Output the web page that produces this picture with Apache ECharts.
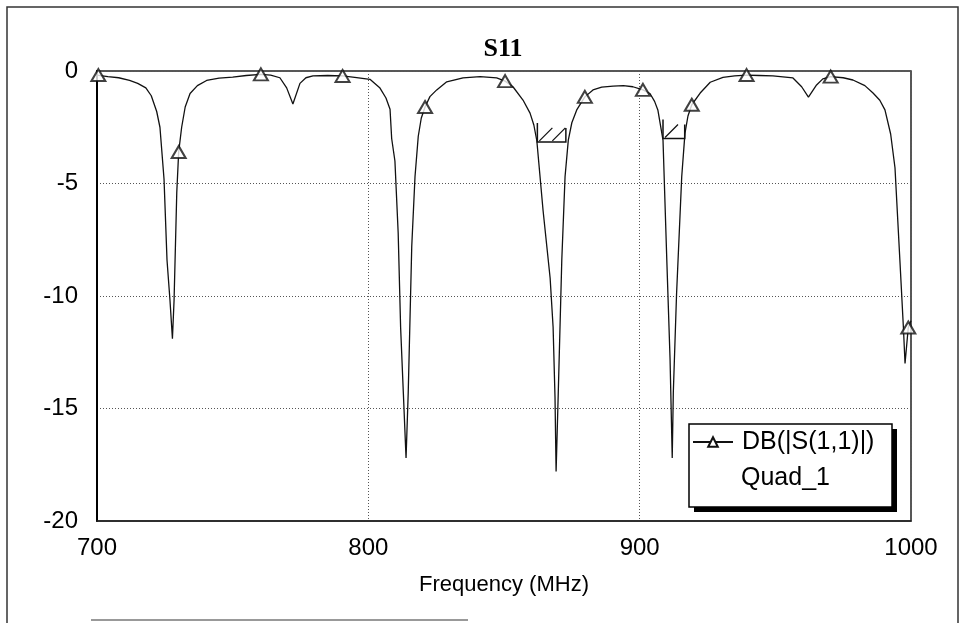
<!DOCTYPE html>
<html>
<head>
<meta charset="utf-8">
<script src="https://cdn.jsdelivr.net/npm/echarts@6/dist/echarts.min.js"></script>
<style>
  html, body { margin: 0; padding: 0; background: #fff; }
  #main { width: 966px; height: 623px; }
</style>
</head>
<body>
<div id="main"></div>
<script>
// 频率 (MHz) 与 S11 (dB)
var freq = [
  700, 704, 708, 712, 715, 718, 720, 722, 723.2, 724.7, 725.8, 726.9, 727.8, 728.4, 729.4, 730.1,
  731.2, 732.5, 734.3, 737, 740.4, 745, 750, 755, 760.4, 764, 767.4, 769.9, 772.2, 774.8, 777,
  779.6, 785, 790.5, 795, 800.6, 804.3, 806.5, 808, 808.6, 809.8, 811, 811.9, 812.9, 813.9,
  814.7, 816, 817.2, 818.4, 819.5, 820.9, 822.7, 825.2, 828.9, 834.9, 841.2, 847.3, 850.4,
  853.3, 857, 859.6, 861, 862.1, 864.4, 867, 868.1, 868.8, 869.2, 870, 871.3, 872.5, 873.7,
  875, 876.8, 879.8, 882.8, 886, 890.2, 894, 897.5, 901.2, 903.8, 905.5, 906.7, 908.6, 910,
  911.2, 912, 912.4, 913.6, 915.5, 916.7, 917.8, 919.2, 922.3, 926, 930.7, 935, 939.4, 944,
  949.1, 956.5, 959.7, 962.2, 965.2, 967.5, 970.4, 975, 978.6, 983, 986, 988.5, 990.4, 992.5,
  994.1, 995.9, 997.2, 997.8, 999, 1000
];
var s11 = [
  -0.18, -0.25, -0.3, -0.42, -0.55, -0.75, -1.1, -1.8, -2.5, -4.8, -8.4, -10.2, -11.9, -10.2, -5.4, -3.6,
  -2.5, -1.6, -1.0, -0.65, -0.42, -0.32, -0.27, -0.2, -0.15, -0.18, -0.3, -0.75, -1.47, -0.55, -0.3,
  -0.22, -0.2, -0.22, -0.28, -0.37, -0.76, -1.2, -1.7, -3.0, -4.0, -7.2, -11.4, -14.3, -17.2,
  -14.3, -7.8, -4.7, -2.9, -2.1, -1.6, -1.14, -0.84, -0.48, -0.31, -0.25, -0.31, -0.45,
  -0.7, -1.29, -1.87, -2.4, -3.1, -6.2, -9.2, -11.4, -14.5, -17.8, -14.3, -8.4, -4.7, -3.07,
  -2.3, -1.73, -1.15, -0.84, -0.72, -0.67, -0.65, -0.7, -0.84, -1.0, -1.35, -1.73, -3.07, -8.4,
  -12.8, -17.2, -14.3, -9.9, -4.7, -2.76, -2.0, -1.5, -0.98, -0.5, -0.28, -0.22, -0.18, -0.2,
  -0.22, -0.31, -0.7, -1.16, -0.62, -0.35, -0.25, -0.3, -0.4, -0.65, -0.98, -1.3, -1.73, -2.8,
  -4.3, -8.4, -11.4, -13.0, -11.4, -11.1
];

// 曲线上的三角标记
var markerFreq = [700.5, 730.1, 760.4, 790.5, 820.9, 850.4, 879.8, 901.2, 919.2, 939.4, 970.4, 999];
var markerDb = [-0.18, -3.6, -0.15, -0.22, -1.6, -0.45, -1.15, -0.84, -1.5, -0.18, -0.25, -11.4];

// 优化目标（斜线标记）
var goalStart = [862.3, 908.6];
var goalEnd = [872.8, 916.6];
var goalDb = [-3.15, -3.0];

var xTicks = [700, 800, 900, 1000];
var yTicks = [0, -5, -10, -15, -20];

var traceName = 'DB(|S(1,1)|)';
var docName = 'Quad_1';
var fontFamily = '"Liberation Sans", Arial, sans-serif';

var chart = echarts.init(document.getElementById('main'), null, { renderer: 'canvas' });

var option = {
  backgroundColor: '#fff',
  animation: false,
  title: {
    text: 'S11',
    left: 498,
    top: 31,
    textAlign: 'center',
    textStyle: {
      fontFamily: '"Liberation Serif", "Times New Roman", serif',
      fontWeight: 'bold',
      fontSize: 26,
      color: '#000'
    }
  },
  grid: {
    left: 97,
    right: 55,
    top: 71,
    bottom: 102,
    show: true,
    borderColor: '#222',
    borderWidth: 1.5
  },
  legend: {
    data: [{ name: traceName }],
    left: 692,
    top: 427,
    padding: 0,
    itemWidth: 40,
    itemHeight: 12,
    z: 20,
    textStyle: {
      fontFamily: fontFamily,
      fontSize: 25,
      lineHeight: 30,
      color: '#000',
      padding: [0, 0, 0, 4]
    }
  },
  xAxis: {
    type: 'value',
    min: 700,
    max: 1000,
    interval: 100,
    name: 'Frequency (MHz)',
    nameLocation: 'middle',
    nameGap: 53,
    nameTextStyle: { fontFamily: fontFamily, fontSize: 22, color: '#000' },
    axisLine: { show: true, onZero: false, lineStyle: { color: '#222', width: 1.5 } },
    axisTick: { show: false },
    axisLabel: {
      margin: 15,
      fontFamily: fontFamily,
      fontSize: 24,
      color: '#000',
      formatter: function (v) { return xTicks.indexOf(v) >= 0 ? String(v) : ''; }
    },
    splitLine: { show: true, lineStyle: { color: '#555', type: [1, 2], width: 1 } }
  },
  yAxis: {
    type: 'value',
    min: -20,
    max: 0,
    interval: 5,
    axisLine: { show: true, lineStyle: { color: '#000', width: 2 } },
    axisTick: { show: false },
    axisLabel: {
      margin: 19,
      fontFamily: fontFamily,
      fontSize: 24,
      color: '#000',
      formatter: function (v) { return yTicks.indexOf(v) >= 0 ? String(v) : ''; }
    },
    splitLine: { show: true, lineStyle: { color: '#555', type: [1, 2], width: 1 } }
  },
  series: [
    {
      name: traceName,
      type: 'line',
      data: freq.map(function (f, i) { return [f, s11[i]]; }),
      showSymbol: false,
      symbol: 'emptyTriangle',
      symbolSize: [14, 12],
      lineStyle: { color: '#111', width: 1.3 },
      itemStyle: { color: '#111', borderColor: '#111', borderWidth: 1.3 },
      z: 3
    },
    {
      name: traceName,
      type: 'scatter',
      data: markerFreq.map(function (f, i) { return [f, markerDb[i]]; }),
      symbol: 'emptyTriangle',
      symbolSize: [14, 12],
      clip: true,
      itemStyle: { color: '#111', borderColor: '#111', borderWidth: 1.3 },
      z: 4
    },
    {
      name: 'goal',
      type: 'custom',
      data: goalStart.map(function (f, i) { return [f, goalEnd[i], goalDb[i]]; }),
      renderItem: function (params, api) {
        var p1 = api.coord([api.value(0), api.value(2)]);
        var p2 = api.coord([api.value(1), api.value(2)]);
        var h = 19;
        var children = [{
          type: 'polyline',
          shape: { points: [[p1[0], p1[1] - h], [p1[0], p1[1]], [p2[0], p2[1]], [p2[0], p2[1] - h + 5]] },
          style: { stroke: '#111', lineWidth: 1.5, fill: null }
        }];
        for (var x = p1[0] + 2; x + 12 <= p2[0] + 1; x += 13) {
          children.push({
            type: 'line',
            shape: { x1: x, y1: p1[1] - 1, x2: x + 13, y2: p1[1] - 14 },
            style: { stroke: '#111', lineWidth: 1.3 }
          });
        }
        return { type: 'group', children: children };
      },
      z: 5
    }
  ],
  graphic: [
    {
      type: 'rect',
      shape: { x: 7, y: 7, width: 951, height: 660 },
      style: { fill: null, stroke: '#333', lineWidth: 1.5 },
      silent: true
    },
    {
      type: 'line',
      shape: { x1: 91, y1: 620, x2: 468, y2: 620 },
      style: { stroke: '#777', lineWidth: 1.5 },
      silent: true
    },
    // 图例框与阴影
    {
      type: 'rect',
      shape: { x: 694, y: 429, width: 203, height: 83 },
      style: { fill: '#000' },
      z: 10,
      silent: true
    },
    {
      type: 'rect',
      shape: { x: 689, y: 424, width: 203, height: 83 },
      style: { fill: '#fff', stroke: '#000', lineWidth: 1.5 },
      z: 11,
      silent: true
    },
    {
      type: 'text',
      left: 741,
      top: 466,
      style: { text: docName, font: '25px ' + fontFamily, fill: '#000' },
      z: 20,
      silent: true
    }
  ]
};

chart.setOption(option);
</script>
</body>
</html>
